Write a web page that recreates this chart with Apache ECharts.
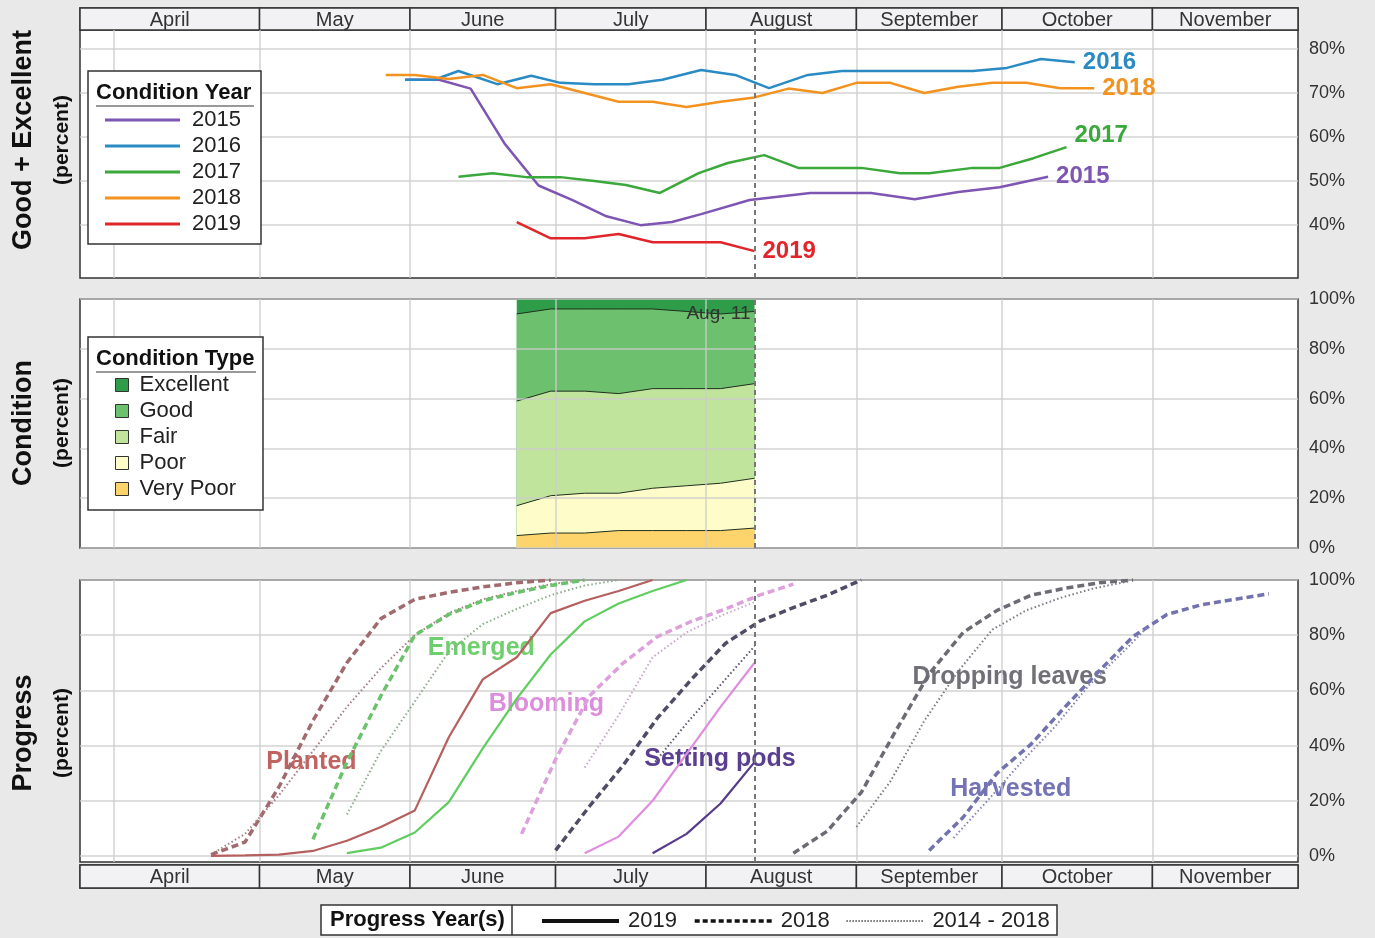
<!DOCTYPE html>
<html><head><meta charset="utf-8">
<script src="https://cdn.jsdelivr.net/npm/echarts@6/dist/echarts.min.js"></script>
<style>html,body{margin:0;padding:0;background:#e9e9e9;}#c{width:1375px;height:938px;}</style>
</head><body><div id="c"></div>
<script>
// x values are day-of-year (2019 calendar): Apr 1 = 91, Aug 11 = 223
const monthNames = ['April','May','June','July','August','September','October','November'];
const monthStarts = [91,121,152,182,213,244,274,305];
const monthBoxEdges = [84,121,152,182,213,244,274,305,335];
const currentWeek = 223; // Aug. 11

// Panel 1: Good + Excellent (%) by condition year, [day, value]
const ge2015 = [[151,73],[158,73],[164.5,71],[171.5,58.5],[178.5,49],[185.5,45.7],[192.5,42],[199.5,40],[206,40.7],[212,42.5],[222,45.7],[234.5,47.3],[247,47.3],[256,45.9],[265,47.5],[273.5,48.6],[283.5,51]];
const ge2016 = [[151,73],[157,73],[162,75],[170,72],[177,73.9],[183,72.3],[190,72],[197,72],[204,73],[212,75.2],[219,74.1],[226,71.1],[234,74.1],[241,75],[249,75],[258,75],[268,75],[275,75.7],[282,77.7],[289,77]];
const ge2017 = [[162,51],[169,51.8],[176,50.9],[183,50.9],[190,50],[196.5,49.1],[203.5,47.3],[211.5,51.8],[217.5,54.1],[225,55.9],[232,53],[245,53],[253,51.8],[259,51.8],[268,53],[273.5,53],[280.5,55.2],[287.3,57.7]];
const ge2018 = [[147,74.1],[153,74.1],[160,73.2],[167,74.1],[174,71.1],[181,72],[188,70],[195,68],[202,68],[209,66.8],[216,68],[223,69],[230,71],[237,70],[244,72.3],[251,72.3],[258,70],[265,71.4],[272,72.3],[279,72.3],[286,71.1],[293,71.1]];
const ge2019 = [[174,40.7],[181,37],[188,37],[195,38],[202,36.1],[209,36.1],[216,36.1],[223,34.1]];

// Panel 2: 2019 condition shares (%)
const condDays = [174,181,188,195,202,209,216,223];
const condVeryPoor = [5,6,6,7,7,7,7,8];
const condPoor = [12,15,16,15,17,18,19,20];
const condFair = [42,42,41,40,40,39,38,38];
const condGood = [35,33,33,34,32,31,30,29];
const condExcellent = [6,4,4,4,4,5,6,5];

// Panel 3: progress (%), [day, value]
const planted2019 = [[111,0],[118,0.2],[125,0.5],[132,1.8],[139,5.5],[146,10.5],[153,16.5],[160,43],[167,64],[174,72],[181,88],[188,92.5],[195,96],[202,100]];
const planted2018 = [[111,0.5],[118,5],[125,25],[132,49],[139,70],[146,86],[153,93],[160,95.5],[167,97.5],[174,99],[181,100]];
const plantedAvg = [[111,0.5],[118,8],[125,22],[132,38],[139,54],[146,68],[153,80],[160,88],[167,93],[174,96],[181,98.5],[188,100]];
const emerged2019 = [[139,1],[146,3],[153,8.5],[160,19.5],[167,39],[174,57],[181,73],[188,85],[195,91.5],[202,96],[209,100]];
const emerged2018 = [[132,6],[139,34],[146,58],[153,80],[160,87.5],[167,92.5],[174,95.5],[181,98],[188,100]];
const emergedAvg = [[139,15],[146,38],[153,56],[160,74],[167,84],[174,89.5],[181,94.5],[188,98],[195,100]];
const blooming2019 = [[188,1],[195,7],[202,20],[209,37],[216,54],[223,70]];
const blooming2018 = [[175,8],[182,35],[189,58],[196,70],[203,79.5],[210,85],[217,89.5],[224,94.5],[231,98.5]];
const bloomingAvg = [[188,32],[195,51],[202,72],[209,81],[216,87],[223,92]];
const setting2019 = [[202,1],[209,8],[216,19],[223,34]];
const setting2018 = [[182,2],[189,18],[196,33],[203,50],[210,64],[217,77],[224,85],[231,90],[238,94.5],[245,100]];
const settingAvg = [[202,33],[209,48],[216,62],[223,76]];
const dropping2018 = [[231,1],[238,9],[245,23],[252,45],[259,66],[266,81],[273,89],[280,94.5],[287,97],[294,99],[301,100]];
const droppingAvg = [[244,10.5],[251,27],[258,49],[265,67],[272,82],[279,89],[286,93.5],[293,97],[300,99.5]];
const harvested2018 = [[259,2],[266,14],[273,30],[280,40.5],[287,54],[294,67],[301,79.5],[308,87.5],[315,91],[322,93],[329,95]];
const harvestedAvg = [[264,6.5],[271,20],[278,34],[285,47],[292,62],[299,74],[304,83]];

// stage annotations [day, value, text]
const stageLabels = [[131.7,34,'Planted'],[166.7,75.4,'Emerged'],[180.1,55,'Blooming'],[215.9,35.1,'Setting pods'],[275.6,64.9,'Dropping leaves'],[275.8,24.3,'Harvested']];

const pct1Ticks = [40,50,60,70,80];
const pctTicks = [0,20,40,60,80,100];

const FONT = '"Liberation Sans", Arial, sans-serif';
const GRIDC = 'rgba(205,205,205,0.65)';
const X_MIN = 84, X_MAX = 335;

const chart = echarts.init(document.getElementById('c'));

function xAx(i, grid) {
  return {type:'value', gridIndex:i, min:X_MIN, max:X_MAX, z:3,
    axisLine:{show:false}, axisLabel:{show:false},
    axisTick:{show:false, customValues: monthStarts},
    splitLine:{show:grid, lineStyle:{color:GRIDC, width:2}}};
}
function yAx(i, min, max, ticks) {
  return {type:'value', gridIndex:i, min:min, max:max, position:'right', z:3,
    axisLine:{show:false},
    axisTick:{show:false, customValues:ticks},
    axisLabel:{customValues:ticks, formatter:'{value}%', color:'#333', fontSize:18, fontFamily:FONT, margin:11},
    splitLine:{show:true, lineStyle:{color:GRIDC, width:2}}};
}
const frame = {show:true, backgroundColor:'#fff', borderColor:'#333', borderWidth:1.5, left:80, right:77};
const strip = {show:true, backgroundColor:'#f2f2f4', borderColor:'#333', borderWidth:1.5, left:80, right:77};

function monthStrip(ax) {
  return {type:'custom', xAxisIndex:ax, yAxisIndex:ax, silent:true,
    data: monthNames.map((m,i)=>[monthBoxEdges[i], monthBoxEdges[i+1], i]),
    renderItem: function(params, api){
      const p0 = api.coord([api.value(0), 1]);
      const p1 = api.coord([api.value(1), 0]);
      return {type:'group', children:[
        {type:'rect', shape:{x:p0[0], y:p0[1], width:p1[0]-p0[0], height:p1[1]-p0[1]},
          style:{fill:'#f2f2f4', stroke:'#333', lineWidth:1.5}},
        {type:'text', style:{text:monthNames[api.value(2)], x:(p0[0]+p1[0])/2, y:(p0[1]+p1[1])/2+1,
          align:'center', verticalAlign:'middle', fill:'#333', fontSize:20, fontFamily:FONT}}
      ]};
    }};
}
const aug11Line = {symbol:'none', silent:true, label:{show:false},
  lineStyle:{type:[5,4], color:'#777', width:2}, data:[{xAxis: currentWeek}]};

function geLine(name, data, color, offset) {
  return {name:name, type:'line', xAxisIndex:1, yAxisIndex:1, data:data, symbol:'none', color:color,
    lineStyle:{width:2.5, color:color},
    endLabel:{show:true, formatter:name, color:color, fontSize:24, fontWeight:'bold', fontFamily:FONT, distance:8, offset:offset||[0,0]}};
}
// condition bands, drawn from the top band down; each band's top = its share + all shares below it
const bands = [
  ['Excellent', condExcellent, '#2f9c4a'],
  ['Good', condGood, '#6dc06e'],
  ['Fair', condFair, '#c1e49d'],
  ['Poor', condPoor, '#fefcc9'],
  ['Very Poor', condVeryPoor, '#fdd46c']
];
function bandTop(k, i) {
  let s = 0; for (let j = k; j < bands.length; j++) s += bands[j][1][i]; return s;
}
function condArea(k) {
  const b = bands[k];
  return {name:b[0], type:'line', xAxisIndex:2, yAxisIndex:2, symbol:'none', color:b[2], z:2,
    data: condDays.map((d,i)=>[d, bandTop(k, i)]),
    lineStyle:{color:'#1f2f1f', width: k===0 ? 0 : 1}, areaStyle:{color:b[2], opacity:1}};
}
function prog(data, color, kind) {
  const ls = kind==='solid' ? {width:2.2, color:color} :
             kind==='dash' ? {width:3.5, color:color, type:[7,4]} :
             {width:2, color:color, type:[1.5,2.5]};
  return {type:'line', xAxisIndex:3, yAxisIndex:3, data:data, symbol:'none', silent:true, lineStyle:ls};
}
const C = {planted:'#b65f5f', emerged:'#5fcd5f', blooming:'#e08de0', setting:'#563a8c', dropping:'#6b6b74', harvested:'#7272ae'};
const stageColors = {'Planted':'#bf6461','Emerged':'#6fcf6f','Blooming':'#dc8ddc','Setting pods':'#5a3f90','Dropping leaves':'#707076','Harvested':'#7373b5'};

const series = [
  monthStrip(0), monthStrip(4),
  geLine('2015', ge2015, '#7e55b3'),
  geLine('2016', ge2016, '#2a8bc4'),
  geLine('2017', ge2017, '#3aa83a', [0,-12]),
  geLine('2018', ge2018, '#f3921f'),
  Object.assign(geLine('2019', ge2019, '#e1262b'), {markLine: aug11Line}),
  condArea(0), condArea(1), condArea(2), condArea(3),
  Object.assign(condArea(4), {
    markLine: aug11Line,
    markPoint:{symbol:'circle', symbolSize:0, silent:true,
      label:{show:true, position:'left', distance:4, formatter:'Aug. 11', color:'#333', fontSize:19, fontFamily:FONT},
      data:[{coord:[currentWeek, 94]}]}}),
  {type:'scatter', xAxisIndex:3, yAxisIndex:3, z:1, silent:true, symbolSize:1,
    itemStyle:{color:'rgba(0,0,0,0)'},
    data: stageLabels.map(s=>({value:[s[0], s[1]], name:s[2], label:{color: stageColors[s[2]]}})),
    label:{show:true, position:'inside', formatter:p=>p.name, fontSize:25, fontWeight:'bold', fontFamily:FONT,
      textBorderWidth:0, opacity:1}},
  prog(planted2018, '#a06a6e', 'dash'), prog(plantedAvg, '#a57d80', 'dot'), prog(planted2019, C.planted, 'solid'),
  prog(emerged2018, '#6cc26c', 'dash'), prog(emergedAvg, '#8aac8a', 'dot'), prog(emerged2019, C.emerged, 'solid'),
  prog(blooming2018, '#dca0dc', 'dash'), prog(bloomingAvg, '#c9a6c9', 'dot'), prog(blooming2019, C.blooming, 'solid'),
  prog(setting2018, '#4f4c66', 'dash'), prog(settingAvg, '#5d5a70', 'dot'),
  Object.assign(prog(setting2019, C.setting, 'solid'), {markLine: aug11Line}),
  prog(dropping2018, C.dropping, 'dash'), prog(droppingAvg, '#7a7a86', 'dot'),
  prog(harvested2018, C.harvested, 'dash'), prog(harvestedAvg, '#8585b5', 'dot'),
  {name:'P2019', type:'line', xAxisIndex:3, yAxisIndex:3, data:[], symbol:'none', color:'#111', lineStyle:{width:4, color:'#111'}},
  {name:'P2018', type:'line', xAxisIndex:3, yAxisIndex:3, data:[], symbol:'none', color:'#111', lineStyle:{width:3.5, color:'#111', type:[5,3]}},
  {name:'P2014 - 2018', type:'line', xAxisIndex:3, yAxisIndex:3, data:[], symbol:'none', color:'#333', lineStyle:{width:1.5, color:'#444', type:[1.5,1.5]}}
];

const rotT = (x,y,text,size,weight)=>({type:'text', x:x, y:y, rotation:Math.PI/2, z:50,
  style:{text:text, align:'center', verticalAlign:'middle', fill:'#111', fontSize:size, fontWeight:weight, fontFamily:FONT}});

const option = {
  backgroundColor:'#e9e9e9',
  animation:false,
  textStyle:{fontFamily:FONT},
  grid:[
    Object.assign({top:8, height:22}, strip),
    Object.assign({top:30, height:248}, frame),
    Object.assign({top:299, height:249}, frame),
    Object.assign({top:580, height:282}, frame),
    Object.assign({top:865, height:23}, strip)
  ],
  xAxis:[xAx(0,false), xAx(1,true), xAx(2,true), xAx(3,true), xAx(4,false)],
  yAxis:[
    {type:'value', gridIndex:0, min:0, max:1, show:false},
    yAx(1, 28, 84.3, pct1Ticks),
    yAx(2, 0, 100, pctTicks),
    yAx(3, -2.2, 100, pctTicks),
    {type:'value', gridIndex:4, min:0, max:1, show:false}
  ],
  legend:[
    {data:['2015','2016','2017','2018','2019'], orient:'vertical', left:100, top:104, z:60,
      itemWidth:75, itemHeight:3, itemGap:4, icon:'rect', selectedMode:false,
      textStyle:{fontSize:22, lineHeight:22, color:'#222', fontFamily:FONT, padding:[0,0,0,7]}},
    {data:['Excellent','Good','Fair','Poor','Very Poor'], orient:'vertical', left:110, top:369, z:60,
      itemWidth:13, itemHeight:13, itemGap:4, icon:'rect', selectedMode:false,
      itemStyle:{borderColor:'#333', borderWidth:1},
      textStyle:{fontSize:22, lineHeight:22, color:'#222', fontFamily:FONT, padding:[0,0,0,6]}},
    {data:[
        {name:'P2019', lineStyle:{width:4}},
        {name:'P2018', lineStyle:{width:3.5}},
        {name:'P2014 - 2018', lineStyle:{width:1.5}}],
      orient:'horizontal', left:535, top:905, z:60,
      itemWidth:77, itemHeight:14, itemGap:16, selectedMode:false, formatter:n=>n.slice(1),
      itemStyle:{opacity:0},
      textStyle:{fontSize:22, lineHeight:22, color:'#222', fontFamily:FONT, padding:[0,0,0,4]}}
  ],
  graphic:[
    rotT(24,140,'Good + Excellent',27,'bold'), rotT(62,140,'(percent)',21,'bold'),
    rotT(24,423,'Condition',27,'bold'), rotT(62,423,'(percent)',21,'bold'),
    rotT(24,733,'Progress',27,'bold'), rotT(62,733,'(percent)',21,'bold'),
    {type:'rect', z:50, shape:{x:88, y:71, width:173, height:173}, style:{fill:'#fff', stroke:'#333', lineWidth:1.5}},
    {type:'text', z:51, x:96, y:93, style:{text:'Condition Year', fontSize:22, fontWeight:'bold', fill:'#111', fontFamily:FONT, verticalAlign:'middle'}},
    {type:'line', z:51, shape:{x1:96, y1:106, x2:254, y2:106}, style:{stroke:'#999', lineWidth:2}},
    {type:'rect', z:50, shape:{x:88, y:337, width:175, height:173}, style:{fill:'#fff', stroke:'#333', lineWidth:1.5}},
    {type:'text', z:51, x:96, y:359, style:{text:'Condition Type', fontSize:22, fontWeight:'bold', fill:'#111', fontFamily:FONT, verticalAlign:'middle'}},
    {type:'line', z:51, shape:{x1:96, y1:372, x2:256, y2:372}, style:{stroke:'#999', lineWidth:2}},
    {type:'rect', z:50, shape:{x:321, y:905, width:736, height:30}, style:{fill:'#fff', stroke:'#333', lineWidth:1.5}},
    {type:'line', z:51, shape:{x1:512, y1:905, x2:512, y2:935}, style:{stroke:'#333', lineWidth:1.5}},
    {type:'text', z:51, x:330, y:920, style:{text:'Progress Year(s)', fontSize:22, fontWeight:'bold', fill:'#111', fontFamily:FONT, verticalAlign:'middle'}}
  ],
  series: series
};
chart.setOption(option);
</script></body></html>
